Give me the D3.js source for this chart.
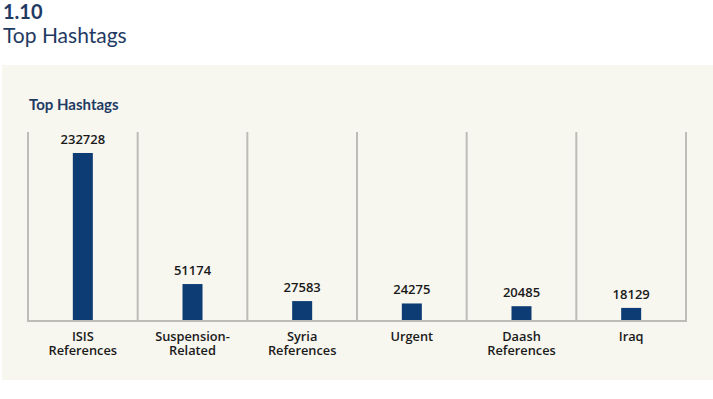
<!DOCTYPE html>
<html>
<head>
<meta charset="utf-8">
<script src="https://cdn.jsdelivr.net/npm/d3@7"></script>
<style>
  body { margin: 0; background: #fff; }
  svg { display: block; }
</style>
</head>
<body>
<svg id="chart"></svg>
<script>
var categories = [["ISIS", "References"], ["Suspension-", "Related"], ["Syria", "References"],
                  ["Urgent"], ["Daash", "References"], ["Iraq"]];
var values = [232728, 51174, 27583, 24275, 20485, 18129];

var width = 713, height = 399;
var plotLeft = 28, plotRight = 686, plotTop = 132, baseline = 321;
var barWidth = 20;
var navy = "#0d3b73";

var svg = d3.select("#chart").attr("width", width).attr("height", height);

// headings
svg.append("text").attr("x", 3).attr("y", 19)
   .style("font", "bold 20px Lato, sans-serif").style("fill", "#1f3a63")
   .text("1.10");
svg.append("text").attr("x", 3).attr("y", 43)
   .style("font", "21px Lato, sans-serif").style("fill", "#1f3a63")
   .text("Top Hashtags");

// panel
svg.append("rect").attr("x", 2).attr("y", 65).attr("width", 711).attr("height", 315)
   .style("fill", "#f7f6ef");

svg.append("text").attr("x", 29).attr("y", 110)
   .style("font", "bold 15px Lato, sans-serif").style("fill", "#1f3a63")
   .text("Top Hashtags");

var x = d3.scaleBand().domain(d3.range(values.length)).range([plotLeft, plotRight]);
var y = d3.scaleLinear().domain([0, 261800]).range([baseline, plotTop]);

// dividers
svg.selectAll("line.divider")
   .data(d3.range(values.length + 1))
   .enter()
   .append("line")
   .attr("class", "divider")
   .attr("x1", function(d) { return d < values.length ? x(d) : plotRight; })
   .attr("x2", function(d) { return d < values.length ? x(d) : plotRight; })
   .attr("y1", plotTop)
   .attr("y2", baseline)
   .style("stroke", "#bdbcb6").style("stroke-width", 2);

// bars
svg.selectAll("rect.bar")
   .data(values)
   .enter()
   .append("rect")
   .attr("class", "bar")
   .attr("x", function(d, i) { return x(i) + x.bandwidth() / 2 - barWidth / 2; })
   .attr("y", function(d) { return y(d); })
   .attr("width", barWidth)
   .attr("height", function(d) { return baseline - y(d); })
   .style("fill", navy);

// baseline
svg.append("line")
   .attr("x1", plotLeft - 1).attr("x2", plotRight + 1)
   .attr("y1", baseline).attr("y2", baseline)
   .style("stroke", "#bdbcb6").style("stroke-width", 2);

// value labels
svg.selectAll("text.value")
   .data(values)
   .enter()
   .append("text")
   .attr("class", "value")
   .attr("text-anchor", "middle")
   .attr("x", function(d, i) { return x(i) + x.bandwidth() / 2; })
   .attr("y", function(d) { return y(d) - 9; })
   .style("font", "600 13px 'Open Sans', sans-serif").style("fill", "#1a1a1a")
   .text(String);

// category labels
var cats = svg.selectAll("text.category")
   .data(categories)
   .enter()
   .append("text")
   .attr("class", "category")
   .attr("text-anchor", "middle")
   .attr("x", function(d, i) { return x(i) + x.bandwidth() / 2; })
   .attr("y", 341)
   .style("font", "600 12.8px 'Open Sans', sans-serif").style("fill", "#1a1a1a");

cats.selectAll("tspan")
   .data(function(d) { return d; })
   .enter()
   .append("tspan")
   .attr("x", function() { return d3.select(this.parentNode).attr("x"); })
   .attr("dy", function(d, i) { return i === 0 ? 0 : 14; })
   .text(String);
</script>
</body>
</html>
